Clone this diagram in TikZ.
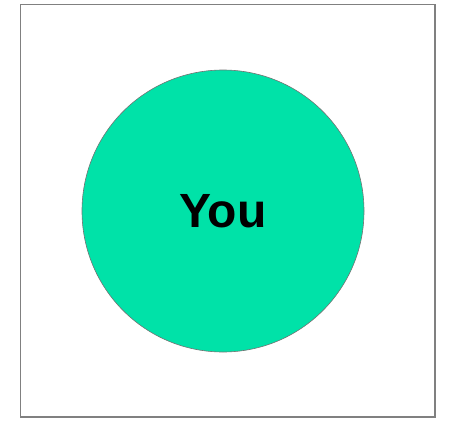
\documentclass[tikz,border=0pt]{standalone}
\usepackage{fontspec}
\setmainfont{Liberation Sans}
\begin{document}
\begin{tikzpicture}[x=1pt,y=-1pt,
  frame/.style={draw=black!50,line width=1.5pt},
  you/.style={circle,draw=black!55,line width=0.6pt,fill={rgb,255:red,0;green,226;blue,168},minimum size=282pt,inner sep=0pt,font=\fontsize{48}{48}\selectfont\bfseries}]
\useasboundingbox (0,0) rectangle (449,420);
\draw[frame] (20.5,4.5) rectangle (435,417);
\node[you] (y) at (223,211) {You};
\end{tikzpicture}
\end{document}
